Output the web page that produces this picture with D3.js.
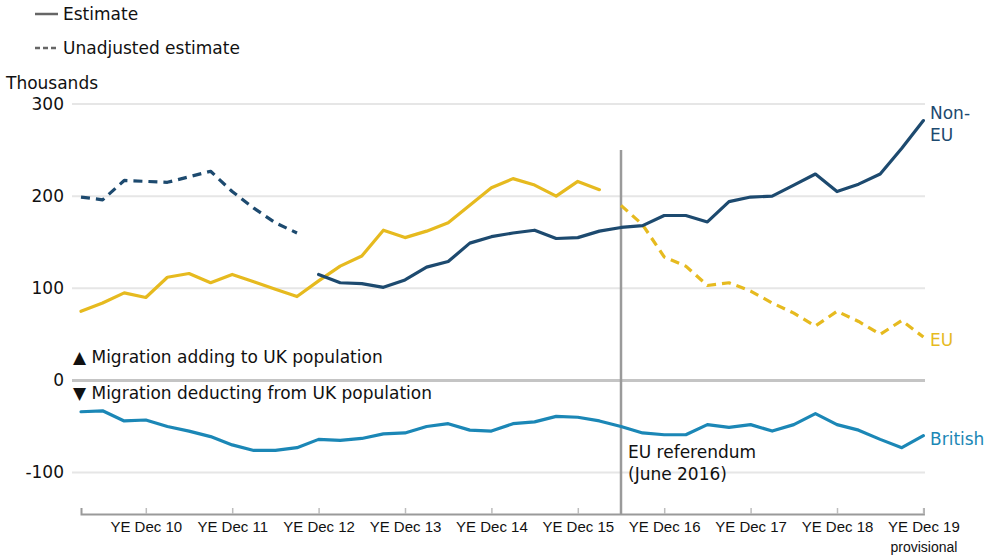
<!DOCTYPE html>
<html>
<head>
<meta charset="utf-8">
<script src="https://cdn.jsdelivr.net/npm/d3@7"></script>
<style>
  html, body { margin: 0; padding: 0; background: #fff; }
  svg { display: block; font-family: "DejaVu Sans", sans-serif; }
</style>
</head>
<body>
<svg id="chart" width="992" height="556"></svg>
<script>
// ---- data ----
const periods = [
  "YE Mar 10","YE Jun 10","YE Sep 10","YE Dec 10",
  "YE Mar 11","YE Jun 11","YE Sep 11","YE Dec 11",
  "YE Mar 12","YE Jun 12","YE Sep 12","YE Dec 12",
  "YE Mar 13","YE Jun 13","YE Sep 13","YE Dec 13",
  "YE Mar 14","YE Jun 14","YE Sep 14","YE Dec 14",
  "YE Mar 15","YE Jun 15","YE Sep 15","YE Dec 15",
  "YE Mar 16","YE Jun 16","YE Sep 16","YE Dec 16",
  "YE Mar 17","YE Jun 17","YE Sep 17","YE Dec 17",
  "YE Mar 18","YE Jun 18","YE Sep 18","YE Dec 18",
  "YE Mar 19","YE Jun 19","YE Sep 19","YE Dec 19"
];
const tickPeriods = ["YE Dec 10","YE Dec 11","YE Dec 12","YE Dec 13","YE Dec 14",
                     "YE Dec 15","YE Dec 16","YE Dec 17","YE Dec 18","YE Dec 19"];
const yTicks = [300, 200, 100, 0, -100];

const nonEUUnadjusted = [199,196,217,216,215,221,227,205,187,171,160,
  null,null,null,null,null,null,null,null,null,null,null,null,null,null,null,null,null,null,null,null,null,null,null,null,null,null,null,null,null];
const nonEU = [null,null,null,null,null,null,null,null,null,null,null,
  115,106,105,101,109,123,129,149,156,160,163,154,155,162,166,168,179,179,172,194,199,200,212,224,205,213,224,252,282];
const eu = [75,84,95,90,112,116,106,115,107,99,91,108,124,135,163,155,162,171,190,209,219,212,200,216,207,
  null,null,null,null,null,null,null,null,null,null,null,null,null,null,null];
const euUnadjusted = [null,null,null,null,null,null,null,null,null,null,null,null,null,null,null,null,null,null,null,null,null,null,null,null,null,
  190,169,134,124,103,106,97,84,73,59,75,64,50,65,47];
const british = [-34,-33,-44,-43,-50,-55,-61,-70,-76,-76,-73,-64,-65,-63,-58,-57,-50,-47,-54,-55,
  -47,-45,-39,-40,-44,-50,-57,-59,-59,-48,-51,-48,-55,-48,-36,-48,-54,-64,-73,-60];
const referendumPeriod = "YE Jun 16";

// ---- drawing ----
const C = { nonEU: "#1d4a6f", eu: "#e6ba1f", british: "#1b87b6", grid: "#e6e6e6", zero: "#c4c4c4", text: "#111" };
const svg = d3.select("#chart");
const FONT = 17;
const TICKFONT = 15;

const x = d3.scalePoint().domain(periods).range([81, 923.4]);
const y = d3.scaleLinear().domain([-145, 300]).range([514, 104]);

// gridlines
svg.append("g").selectAll("line").data(yTicks.filter(d => d !== 0)).join("line")
  .attr("x1", 72).attr("x2", 925).attr("y1", d => y(d)).attr("y2", d => y(d))
  .attr("stroke", C.grid).attr("stroke-width", 2);
svg.append("line").attr("x1", 72).attr("x2", 925).attr("y1", y(0)).attr("y2", y(0))
  .attr("stroke", C.zero).attr("stroke-width", 3);

// y labels
svg.append("g").selectAll("text").data(yTicks).join("text")
  .attr("x", 64).attr("y", d => y(d)).attr("dy", "0.35em").attr("text-anchor", "end")
  .attr("font-size", FONT).attr("fill", C.text).text(d => d);
svg.append("text").attr("x", 6).attr("y", 83).attr("dy", "0.35em")
  .attr("font-size", FONT).attr("fill", C.text).text("Thousands");

// x axis
const xAxis = d3.axisBottom(x).tickValues(tickPeriods).tickSizeInner(-6).tickSizeOuter(-6).tickFormat("");
const gx = svg.append("g").attr("transform", `translate(0,${y(-145)})`).call(xAxis);
gx.select(".domain").attr("stroke", "#9a9a9a").attr("stroke-width", 2);
gx.selectAll(".tick line").attr("stroke", "#bdbdbd").attr("stroke-width", 1.5);
gx.selectAll(".tick").append("text").attr("y", 13).attr("dy", "0.35em").attr("text-anchor", "middle")
  .attr("font-size", TICKFONT).attr("fill", C.text).text(d => d);
gx.selectAll(".tick").filter(d => d === "YE Dec 19").append("text").attr("y", 33).attr("dy", "0.35em")
  .attr("text-anchor", "middle").attr("font-size", TICKFONT - 1).attr("fill", C.text).text("provisional");

// referendum line
svg.append("line").attr("x1", x(referendumPeriod)).attr("x2", x(referendumPeriod))
  .attr("y1", 150).attr("y2", y(-145)).attr("stroke", "#9a9a9a").attr("stroke-width", 2.5);
svg.append("text").attr("x", x(referendumPeriod) + 7).attr("y", 452).attr("dy", "0.35em")
  .attr("font-size", FONT).attr("fill", C.text).text("EU referendum");
svg.append("text").attr("x", x(referendumPeriod) + 7).attr("y", 474).attr("dy", "0.35em")
  .attr("font-size", FONT).attr("fill", C.text).text("(June 2016)");

// lines
const line = d3.line().defined(d => d.v !== null).x(d => x(d.p)).y(d => y(d.v));
const toPts = arr => arr.map((v, i) => ({ p: periods[i], v }));
function draw(arr, color, dashed) {
  svg.append("path").datum(toPts(arr)).attr("d", line)
    .attr("fill", "none").attr("stroke", color).attr("stroke-width", 3.2)
    .attr("stroke-linejoin", "round").attr("stroke-linecap", dashed ? "butt" : "round")
    .attr("stroke-dasharray", dashed ? "9,6" : null);
}
draw(british, C.british, false);
draw(eu, C.eu, false);
draw(euUnadjusted, C.eu, true);
draw(nonEUUnadjusted, C.nonEU, true);
draw(nonEU, C.nonEU, false);

// series labels
svg.append("text").attr("x", 930).attr("y", 113).attr("dy", "0.35em").attr("font-size", FONT).attr("fill", C.nonEU).text("Non-");
svg.append("text").attr("x", 930).attr("y", 135).attr("dy", "0.35em").attr("font-size", FONT).attr("fill", C.nonEU).text("EU");
svg.append("text").attr("x", 930).attr("y", 340).attr("dy", "0.35em").attr("font-size", FONT).attr("fill", C.eu).text("EU");
svg.append("text").attr("x", 930).attr("y", 439).attr("dy", "0.35em").attr("font-size", FONT).attr("fill", C.british).text("British");

// annotations
svg.append("text").attr("x", 73).attr("y", 357).attr("dy", "0.35em").attr("font-size", FONT).attr("fill", C.text)
  .text("▲ Migration adding to UK population");
svg.append("text").attr("x", 73).attr("y", 393).attr("dy", "0.35em").attr("font-size", FONT).attr("fill", C.text)
  .text("▼ Migration deducting from UK population");

// legend
const legend = [{ label: "Estimate", dash: null, y: 14 }, { label: "Unadjusted estimate", dash: "5,3", y: 48 }];
legend.forEach(l => {
  svg.append("line").attr("x1", 35).attr("x2", 58).attr("y1", l.y).attr("y2", l.y)
    .attr("stroke", "#666").attr("stroke-width", 2.5).attr("stroke-dasharray", l.dash);
  svg.append("text").attr("x", 63).attr("y", l.y).attr("dy", "0.35em").attr("font-size", FONT).attr("fill", C.text).text(l.label);
});
</script>
</body>
</html>
